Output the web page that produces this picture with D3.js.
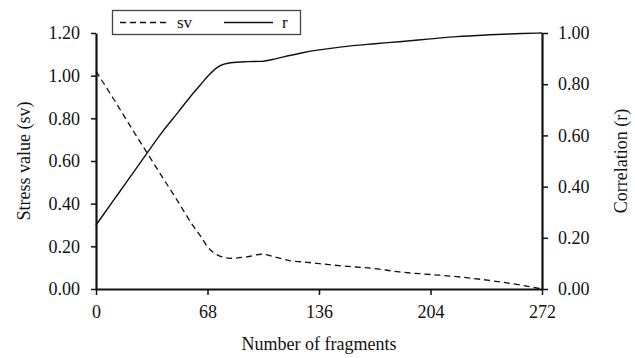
<!DOCTYPE html>
<html>
<head>
<meta charset="utf-8">
<script src="https://cdn.jsdelivr.net/npm/d3@7"></script>
<style>
  body { margin: 0; background: #fff; }
  svg text { font-family: 'Liberation Serif', 'DejaVu Serif', serif !important; fill: #111; }
</style>
</head>
<body>
<div id="chart"></div>
<script>
// values
const fragments = [0, 10, 20, 31, 40, 50, 58, 64, 68, 74, 82, 92, 101, 110, 118, 126, 135, 150, 170, 185, 204, 220, 240, 260, 272];
const stressValues = [1.02, 0.90, 0.775, 0.64, 0.53, 0.41, 0.31, 0.245, 0.198, 0.16, 0.144, 0.151, 0.163, 0.148, 0.133, 0.127, 0.12, 0.108, 0.096, 0.08, 0.068, 0.058, 0.04, 0.017, 0.0];
const correlation = [0.25, 0.34, 0.43, 0.53, 0.61, 0.69, 0.755, 0.80, 0.83, 0.866, 0.884, 0.888, 0.889, 0.90, 0.912, 0.923, 0.933, 0.946, 0.958, 0.966, 0.977, 0.986, 0.993, 0.998, 1.0];
const xTicks = [0, 68, 136, 204, 272];
const leftTicks = [0, 0.2, 0.4, 0.6, 0.8, 1.0, 1.2];
const rightTicks = [0, 0.2, 0.4, 0.6, 0.8, 1.0];

const width = 635, height = 358;
const margin = {top: 33, right: 93, bottom: 69, left: 96};
const serif = "'Liberation Serif', 'DejaVu Serif', serif";

const svg = d3.select("#chart").append("svg")
  .attr("width", width)
  .attr("height", height)
  .attr("font-family", serif);

const x = d3.scaleLinear().domain([0, 272]).range([margin.left, width - margin.right]);
const yL = d3.scaleLinear().domain([0, 1.2]).range([height - margin.bottom, margin.top]);
const yR = d3.scaleLinear().domain([0, 1.0]).range([height - margin.bottom, margin.top]);

const rows = fragments.map((f, i) => ({f, sv: stressValues[i], r: correlation[i]}));

// lines
const svLine = d3.line().x(d => x(d.f)).y(d => yL(d.sv)).curve(d3.curveMonotoneX);
const rLine = d3.line().x(d => x(d.f)).y(d => yR(d.r)).curve(d3.curveMonotoneX);

svg.append("path")
  .datum(rows)
  .attr("d", svLine)
  .attr("fill", "none")
  .attr("stroke", "#111")
  .attr("stroke-width", 1.3)
  .attr("stroke-dasharray", "6,4");

svg.append("path")
  .datum(rows)
  .attr("d", rLine)
  .attr("fill", "none")
  .attr("stroke", "#111")
  .attr("stroke-width", 1.4);

// axes
const fmt = d3.format(".2f");
const styleAxis = g => {
  g.attr("font-family", serif).attr("font-size", 18);
  g.select(".domain").attr("stroke", "#111").attr("stroke-width", 2.2);
  g.selectAll(".tick line").attr("stroke", "#111").attr("stroke-width", 1.5);
  g.selectAll(".tick text").attr("fill", "#111");
};

svg.append("g")
  .attr("transform", `translate(0,${height - margin.bottom})`)
  .call(d3.axisBottom(x).tickValues(xTicks).tickSize(6).tickSizeOuter(0).tickPadding(10))
  .call(styleAxis);

svg.append("g")
  .attr("transform", `translate(${margin.left},0)`)
  .call(d3.axisLeft(yL).tickValues(leftTicks).tickFormat(fmt).tickSize(5).tickSizeOuter(0).tickPadding(11))
  .call(styleAxis);

svg.append("g")
  .attr("transform", `translate(${width - margin.right},0)`)
  .call(d3.axisRight(yR).tickValues(rightTicks).tickFormat(fmt).tickSize(6).tickSizeOuter(0).tickPadding(10))
  .call(styleAxis);

// axis titles
svg.append("text")
  .attr("x", x(136)).attr("y", 350)
  .attr("text-anchor", "middle")
  .attr("font-size", 18)
  .text("Number of fragments");

svg.append("text")
  .attr("transform", `translate(30,${(margin.top + height - margin.bottom) / 2}) rotate(-90)`)
  .attr("text-anchor", "middle")
  .attr("font-size", 18)
  .text("Stress value (sv)");

svg.append("text")
  .attr("transform", `translate(627,${(margin.top + height - margin.bottom) / 2}) rotate(-90)`)
  .attr("text-anchor", "middle")
  .attr("font-size", 18)
  .text("Correlation (r)");

// legend
const legend = svg.append("g");
legend.append("rect")
  .attr("x", 112.5).attr("y", 10.5).attr("width", 188).attr("height", 24)
  .attr("fill", "#fff").attr("stroke", "#444").attr("stroke-width", 1.3);
legend.append("line")
  .attr("x1", 120).attr("x2", 167).attr("y1", 22.5).attr("y2", 22.5)
  .attr("stroke", "#111").attr("stroke-width", 1.3).attr("stroke-dasharray", "6,4");
legend.append("text").attr("x", 177).attr("y", 27.5).attr("font-size", 17).text("sv");
legend.append("line")
  .attr("x1", 224).attr("x2", 273).attr("y1", 22.5).attr("y2", 22.5)
  .attr("stroke", "#111").attr("stroke-width", 1.4);
legend.append("text").attr("x", 282).attr("y", 27.5).attr("font-size", 17).text("r");
</script>
</body>
</html>
